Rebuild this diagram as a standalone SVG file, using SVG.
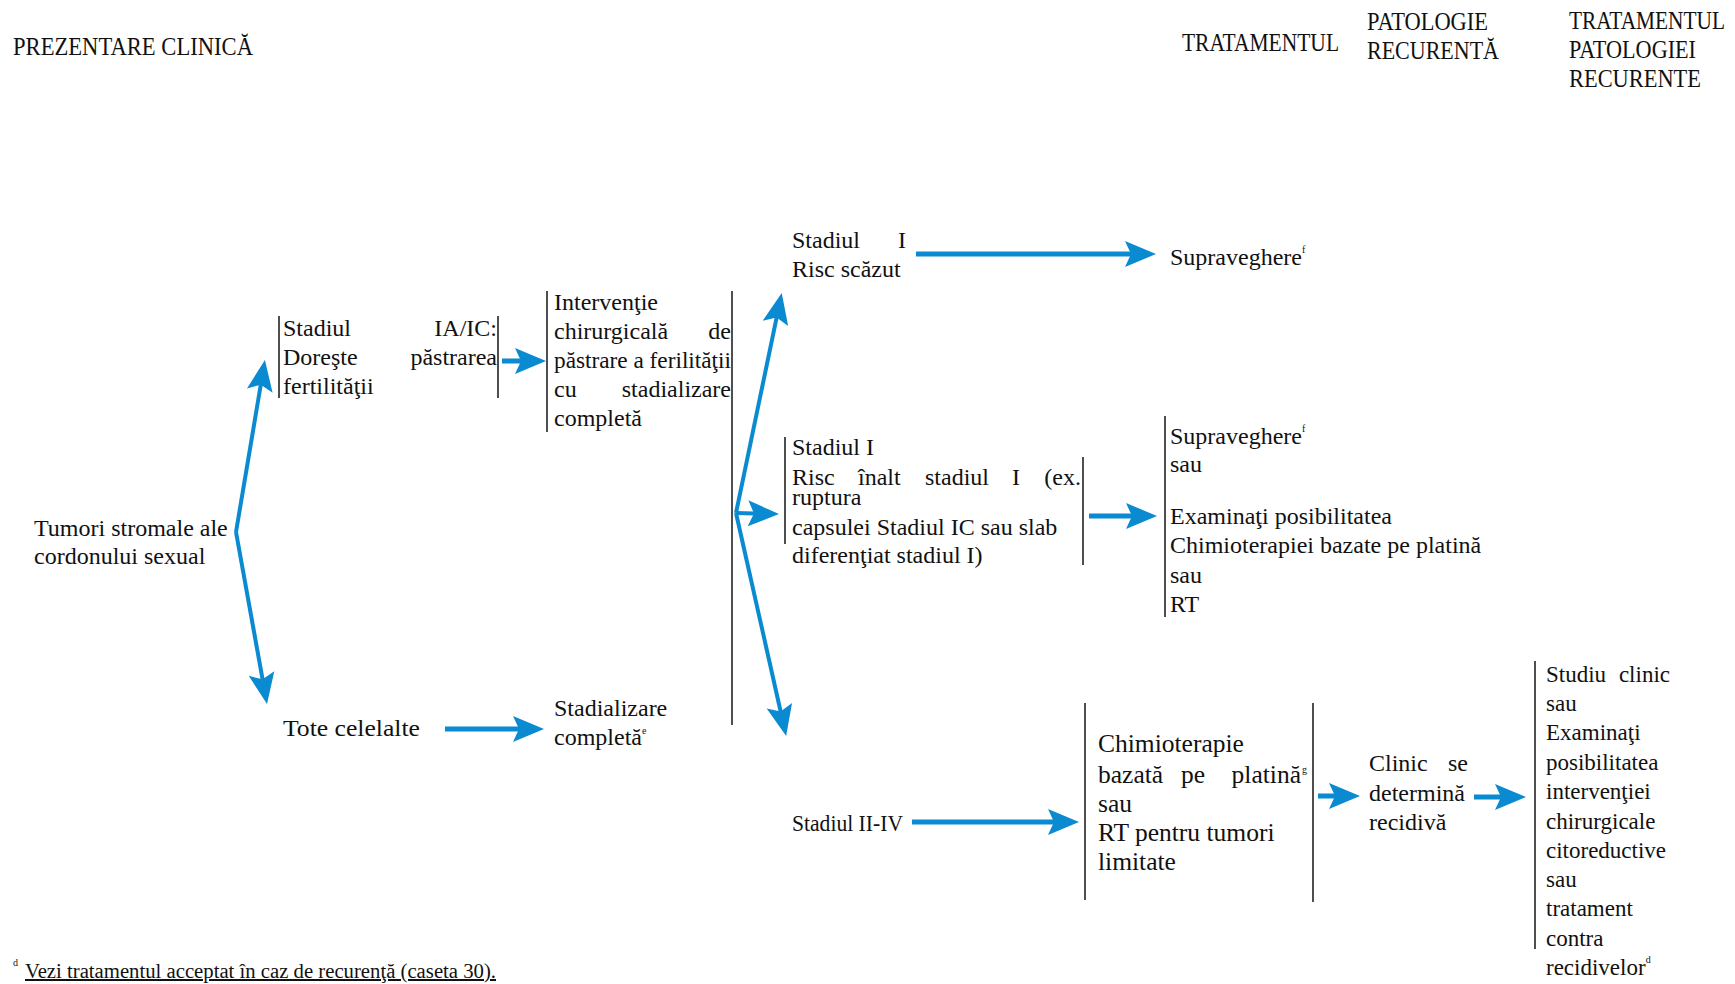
<svg xmlns="http://www.w3.org/2000/svg" width="1735" height="984" viewBox="0 0 1735 984">
<style>
text{font-family:"Liberation Serif","Times New Roman",serif;font-size:24px;fill:#111}
.hd{font-size:25px}
.big{font-size:25.5px}
.sm{font-size:23px}
.sup{font-size:10px}
.bar{stroke:#222;stroke-width:1.6;fill:none}
.arr{stroke:#0a8ad0;stroke-width:5;fill:none;marker-end:url(#ah)}
.arr.d{stroke-width:4}
</style>
<defs>
<marker id="ah" markerUnits="userSpaceOnUse" markerWidth="34" markerHeight="28" refX="23" refY="13" orient="auto" overflow="visible">
<path d="M31,13 L0,0 L6,13 L0,26 Z" fill="#0a8ad0"/>
</marker>
</defs>
<rect width="1735" height="984" fill="#fff"/>

<g id="headers">
<text class="hd" x="13" y="55" textLength="240" lengthAdjust="spacingAndGlyphs">PREZENTARE CLINICĂ</text>
<text class="hd" x="1182" y="51" textLength="157" lengthAdjust="spacingAndGlyphs">TRATAMENTUL</text>
<text class="hd" x="1367" y="30" textLength="121" lengthAdjust="spacingAndGlyphs">PATOLOGIE</text>
<text class="hd" x="1367" y="59" textLength="132" lengthAdjust="spacingAndGlyphs">RECURENTĂ</text>
<text class="hd" x="1569" y="29" textLength="156" lengthAdjust="spacingAndGlyphs">TRATAMENTUL</text>
<text class="hd" x="1569" y="58" textLength="127" lengthAdjust="spacingAndGlyphs">PATOLOGIEI</text>
<text class="hd" x="1569" y="87" textLength="132" lengthAdjust="spacingAndGlyphs">RECURENTE</text>
</g>

<g id="connectors">
<line class="bar" x1="732" y1="291" x2="732" y2="725"/>
<line class="arr d" x1="236" y1="532" x2="263.6" y2="367.9"/>
<line class="arr d" x1="236" y1="532" x2="265.6" y2="696.1"/>
<line class="arr d" x1="736" y1="513" x2="780.1" y2="300.8"/>
<line class="arr d" x1="736" y1="513" x2="771" y2="513.9"/>
<line class="arr d" x1="736" y1="513" x2="784.4" y2="728.2"/>
<line class="arr" x1="502" y1="361" x2="538" y2="361"/>
<line class="arr" x1="445" y1="729" x2="536" y2="729"/>
<line class="arr" x1="916" y1="254" x2="1148" y2="254"/>
<line class="arr" x1="1089" y1="516" x2="1149" y2="516"/>
<line class="arr" x1="912" y1="822" x2="1071" y2="822"/>
<line class="arr" x1="1318" y1="796" x2="1352" y2="796"/>
<line class="arr" x1="1474" y1="797" x2="1518" y2="797"/>
</g>

<g id="n-tumori">
<text x="34" y="536">Tumori stromale ale</text>
<text x="34" y="564">cordonului sexual</text>
</g>

<g id="n-ia-ic">
<line class="bar" x1="279" y1="316" x2="279" y2="398"/>
<line class="bar" x1="498" y1="316" x2="498" y2="398"/>
<text x="283" y="336">Stadiul</text>
<text x="497" y="336" text-anchor="end">IA/IC:</text>
<text x="283" y="365">Doreşte</text>
<text x="497" y="365" text-anchor="end">păstrarea</text>
<text x="283" y="394">fertilităţii</text>
</g>

<g id="n-interventie">
<line class="bar" x1="547" y1="291" x2="547" y2="432"/>
<text x="554" y="310">Intervenţie</text>
<text x="554" y="339">chirurgicală</text>
<text x="731" y="339" text-anchor="end">de</text>
<text x="554" y="368" textLength="177" lengthAdjust="spacingAndGlyphs">păstrare a ferilităţii</text>
<text x="554" y="397">cu</text>
<text x="731" y="397" text-anchor="end">stadializare</text>
<text x="554" y="426">completă</text>
</g>

<g id="n-tote">
<text x="283" y="736" textLength="137" lengthAdjust="spacingAndGlyphs">Tote celelalte</text>
</g>

<g id="n-stadializare">
<text x="554" y="716">Stadializare</text>
<text x="554" y="745">completă<tspan class="sup" dy="-11">e</tspan></text>
</g>

<g id="n-stadiul-i-scazut">
<text x="792" y="248">Stadiul</text>
<text x="906" y="248" text-anchor="end">I</text>
<text x="792" y="277">Risc scăzut</text>
</g>

<g id="n-supraveghere">
<text x="1170" y="265">Supraveghere<tspan class="sup" dy="-12">f</tspan></text>
</g>

<g id="n-stadiul-i-inalt">
<line class="bar" x1="785" y1="437" x2="785" y2="544"/>
<line class="bar" x1="1083" y1="457" x2="1083" y2="565"/>
<text x="792" y="455">Stadiul I</text>
<text x="792" y="485">Risc</text>
<text x="858" y="485">înalt</text>
<text x="925" y="485">stadiul</text>
<text x="1012" y="485">I</text>
<text x="1081" y="485" text-anchor="end">(ex.</text>
<text x="792" y="505">ruptura</text>
<text x="792" y="535">capsulei Stadiul IC sau slab</text>
<text x="792" y="563">diferenţiat stadiul I)</text>
</g>

<g id="n-optiuni">
<line class="bar" x1="1165" y1="416" x2="1165" y2="617"/>
<text x="1170" y="444">Supraveghere<tspan class="sup" dy="-12">f</tspan></text>
<text x="1170" y="472">sau</text>
<text x="1170" y="524">Examinaţi posibilitatea</text>
<text x="1170" y="553">Chimioterapiei bazate pe platină</text>
<text x="1170" y="583">sau</text>
<text x="1170" y="612">RT</text>
</g>

<g id="n-stadiul-ii-iv">
<text x="792" y="831" textLength="111" lengthAdjust="spacingAndGlyphs">Stadiul II-IV</text>
</g>

<g id="n-chimioterapie">
<line class="bar" x1="1085" y1="703" x2="1085" y2="900"/>
<line class="bar" x1="1313" y1="703" x2="1313" y2="902"/>
<text class="big" x="1098" y="752">Chimioterapie</text>
<text class="big" x="1098" y="783">bazată</text>
<text class="big" x="1181" y="783">pe</text>
<text class="big" x="1301" y="783" text-anchor="end">platină</text>
<text class="sup" x="1302" y="773">g</text>
<text class="big" x="1098" y="812">sau</text>
<text class="big" x="1098" y="841">RT pentru tumori</text>
<text class="big" x="1098" y="870">limitate</text>
</g>

<g id="n-recidiva">
<text x="1369" y="771">Clinic</text>
<text x="1468" y="771" text-anchor="end">se</text>
<text x="1369" y="801">determină</text>
<text x="1369" y="830">recidivă</text>
</g>

<g id="n-studiu">
<line class="bar" x1="1535" y1="661" x2="1535" y2="949"/>
<text class="sm" x="1546" y="682">Studiu</text>
<text class="sm" x="1670" y="682" text-anchor="end">clinic</text>
<text class="sm" x="1546" y="711">sau</text>
<text class="sm" x="1546" y="740">Examinaţi</text>
<text class="sm" x="1546" y="770">posibilitatea</text>
<text class="sm" x="1546" y="799">intervenţiei</text>
<text class="sm" x="1546" y="829">chirurgicale</text>
<text class="sm" x="1546" y="858">citoreductive</text>
<text class="sm" x="1546" y="887">sau</text>
<text class="sm" x="1546" y="916">tratament</text>
<text class="sm" x="1546" y="946">contra</text>
<text class="sm" x="1546" y="975">recidivelor<tspan class="sup" dy="-12">d</tspan></text>
</g>

<g id="footnote">
<text class="sup" x="13" y="966">d</text>
<text x="25" y="978" style="font-size:20px" textLength="471" lengthAdjust="spacingAndGlyphs" text-decoration="underline">Vezi tratamentul acceptat  în caz de recurenţă (caseta 30).</text>
</g>
</svg>
